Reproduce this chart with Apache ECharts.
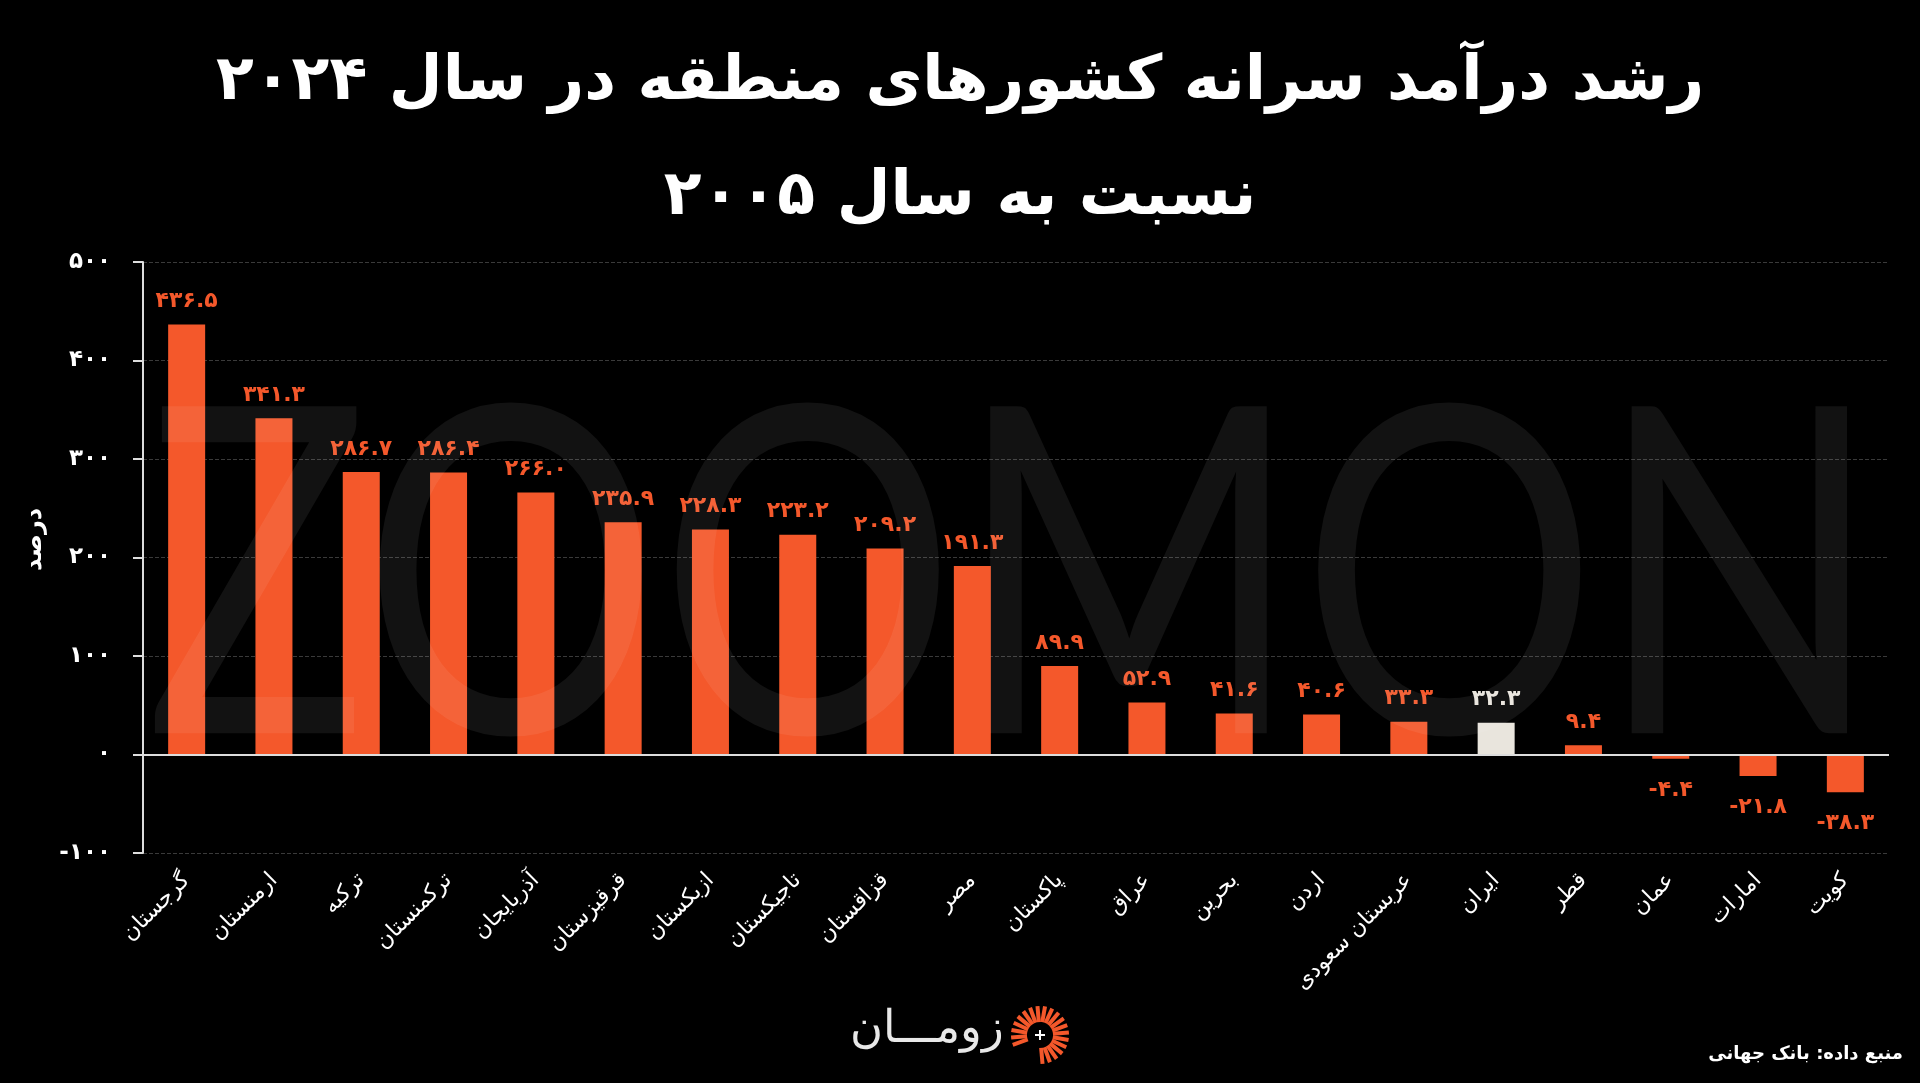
<!DOCTYPE html>
<html>
<head>
<meta charset="utf-8">
<script src="https://cdn.jsdelivr.net/npm/echarts@6/dist/echarts.min.js"></script>
<style>
html,body{margin:0;padding:0;background:#000;}
#chart{width:1920px;height:1083px;}
</style>
</head>
<body>
<div id="chart"></div>
<script>
const titleLine1 = 'رشد درآمد سرانه کشورهای منطقه در سال ۲۰۲۴';
const titleLine2 = 'نسبت به سال ۲۰۰۵';
const yAxisName = 'درصد';
const sourceText = 'منبع داده: بانک جهانی';
const brandText = 'زومـــان';
const watermarkText = 'ZOOMON';

const categories = ['گرجستان','ارمنستان','ترکیه','ترکمنستان','آذربایجان','قرقیزستان','ازبکستان','تاجیکستان','قزاقستان','مصر','پاکستان','عراق','بحرین','اردن','عربستان سعودی','ایران','قطر','عمان','امارات','کویت'];
const values = [436.5, 341.3, 286.7, 286.4, 266.0, 235.9, 228.3, 223.2, 209.2, 191.3, 89.9, 52.9, 41.6, 40.6, 33.3, 32.3, 9.4, -4.4, -21.8, -38.3];
const highlightCategory = 'ایران';
const yTicks = [-100, 0, 100, 200, 300, 400, 500];

const ORANGE = '#F4582B';
const IRAN = '#E9E5DD';
const FONT = '"DejaVu Sans", "Noto Sans", sans-serif';

function fa(s) {
  return String(s).replace(/[0-9]/g, d => '۰۱۲۳۴۵۶۷۸۹'[d]);
}

const chart = echarts.init(document.getElementById('chart'), null, {renderer: 'canvas'});

// logo icon (decorative)
const iconCx = 1040, iconCy = 1035;
const iconParts = [];
for (let a = -200; a <= 95; a += 15) {
  const rad = a * Math.PI / 180;
  const r1 = 13, r2 = 29;
  iconParts.push({
    type: 'line',
    shape: {x1: iconCx + r1 * Math.cos(rad), y1: iconCy + r1 * Math.sin(rad), x2: iconCx + r2 * Math.cos(rad), y2: iconCy + r2 * Math.sin(rad)},
    style: {stroke: ORANGE, lineWidth: 4}
  });
}
iconParts.push({type: 'line', shape: {x1: iconCx - 5, y1: iconCy, x2: iconCx + 5, y2: iconCy}, style: {stroke: '#fff', lineWidth: 2}});
iconParts.push({type: 'line', shape: {x1: iconCx, y1: iconCy - 5, x2: iconCx, y2: iconCy + 5}, style: {stroke: '#fff', lineWidth: 2}});

const option = {
  backgroundColor: '#000',
  animation: false,
  title: [
    {text: titleLine1, left: 'center', top: 47, textStyle: {color: '#fff', fontSize: 62, fontWeight: 'bold', fontFamily: FONT}},
    {text: titleLine2, left: 'center', top: 162, textStyle: {color: '#fff', fontSize: 62, fontWeight: 'bold', fontFamily: FONT}}
  ],
  grid: {left: 143, right: 31, top: 262, bottom: 230, containLabel: false},
  xAxis: {
    type: 'category',
    data: categories,
    axisLine: {show: false, onZero: false},
    axisTick: {show: false},
    axisLabel: {
      color: '#fff', fontSize: 22, fontFamily: FONT, rotate: 45, margin: 24, interval: 0
    },
    splitLine: {show: false}
  },
  yAxis: {
    type: 'value',
    min: -100, max: 500, interval: 100,
    name: yAxisName,
    nameLocation: 'middle',
    nameGap: 96,
    nameRotate: 90,
    nameTextStyle: {color: '#fff', fontSize: 24, fontWeight: 'bold', fontFamily: FONT, padding: [0, 0, 0, 36]},
    axisLine: {show: true, lineStyle: {color: '#ddd', width: 2}},
    axisTick: {show: true, length: 10, lineStyle: {color: '#ddd', width: 2}},
    axisLabel: {
      color: '#fff', fontSize: 23, fontWeight: 'bold', fontFamily: FONT, margin: 32,
      formatter: v => fa(v)
    },
    splitLine: {show: true, lineStyle: {color: '#3a3a3a', type: 'dashed', width: 1}}
  },
  series: [{
    type: 'bar',
    barWidth: 37,
    data: values.map((v, i) => ({
      value: v,
      itemStyle: {color: categories[i] === highlightCategory ? IRAN : ORANGE},
      label: {
        color: categories[i] === highlightCategory ? IRAN : ORANGE,
        position: v >= 0 ? 'top' : 'bottom',
        distance: v >= 0 ? 12 : 20
      }
    })),
    label: {
      show: true,
      fontSize: 22, fontWeight: 'bold', fontFamily: FONT,
      formatter: p => fa(p.value.toFixed(1))
    },
    markLine: {
      silent: true,
      symbol: 'none',
      label: {show: false},
      lineStyle: {color: '#ddd', type: 'solid', width: 2},
      data: [{yAxis: 0}]
    },
    z: 2
  }],
  graphic: [
    {
      type: 'text', z: 100, silent: true,
      x: 1013, y: 586, originX: 0, originY: 0,
      scaleY: 1.23,
      style: {text: watermarkText, fill: 'rgba(255,255,255,0.07)', font: 'normal 371px Lato, sans-serif', textAlign: 'center', textVerticalAlign: 'middle', verticalAlign: 'middle', align: 'center'}
    },
    {
      type: 'text', right: 17, top: 1045,
      style: {text: sourceText, fill: '#fff', font: 'bold 18px ' + FONT}
    },
    {
      type: 'text', left: 850, top: 1008,
      style: {text: brandText, fill: '#e8e8e8', font: '300 45px ' + FONT}
    },
    {type: 'group', children: iconParts}
  ]
};
chart.setOption(option);
</script>
</body>
</html>
